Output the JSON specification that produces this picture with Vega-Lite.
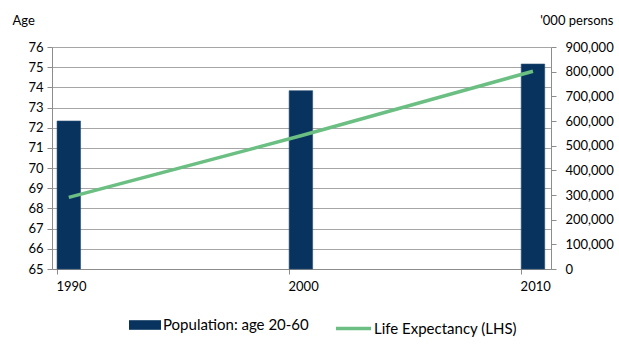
{
  "$schema": "https://vega.github.io/schema/vega-lite/v6.json",
  "width": 499,
  "height": 222,
  "autosize": "none",
  "padding": {"left": 52, "top": 47, "right": 68, "bottom": 76},
  "background": "white",
  "config": {
    "view": {"stroke": null},
    "font": "Lato",
    "axis": {
      "labelFont": "Lato", "labelFontSize": 13, "labelColor": "#000000",
      "titleFont": "Lato", "titleFontSize": 13, "titleFontWeight": "normal", "titleColor": "#000000",
      "domainColor": "#8c8c8c", "tickColor": "#8c8c8c", "gridColor": "#a6a6a6", "tickSize": 5
    },
    "legend": {"labelFont": "Lato", "labelFontSize": 15, "labelColor": "#000000"}
  },
  "data": {"values": [
    {"year": 1990, "population": 600000, "life": 68.55},
    {"year": 2000, "population": 723000, "life": 71.6},
    {"year": 2010, "population": 831000, "life": 74.8}
  ]},
  "layer": [
    {
      "mark": {"type": "bar", "size": 23.5, "xOffset": 11.8, "stroke": "#2a4f74", "strokeWidth": 0.6},
      "encoding": {
        "x": {"field": "year", "type": "quantitative",
              "scale": {"domain": [1990, 2011.07], "nice": false, "zero": false},
              "axis": {"values": [1990, 2000, 2010], "format": "d", "title": null, "grid": false,
                       "labelFlush": false, "labelOffset": 14, "labelPadding": 6}},
        "y": {"field": "population", "type": "quantitative",
              "scale": {"domain": [0, 900000], "nice": false},
              "axis": {"orient": "right", "values": [0,100000,200000,300000,400000,500000,600000,700000,800000,900000],
                       "format": ",d", "grid": false, "title": "'000 persons", "titleAngle": 0,
                       "titleAlign": "right", "titleBaseline": "middle", "titleX": 62, "titleY": -27,
                       "labelPadding": 9}},
        "fill": {"datum": "Population: age 20-60", "type": "nominal",
                 "scale": {"range": ["#08335e"]},
                 "legend": {"title": null, "orient": "none", "legendX": 77, "legendY": 262,
                            "symbolType": "M-1,-0.3H1V0.3H-1Z", "symbolSize": 1024,
                            "symbolStrokeWidth": 0, "labelOffset": 2}}
      }
    },
    {
      "mark": {"type": "line", "xOffset": 11.8, "strokeWidth": 3.5},
      "encoding": {
        "x": {"field": "year", "type": "quantitative"},
        "y": {"field": "life", "type": "quantitative",
              "scale": {"domain": [65, 76], "nice": false, "zero": false},
              "axis": {"orient": "left", "values": [65,66,67,68,69,70,71,72,73,74,75,76],
                       "grid": true, "title": "Age", "titleAngle": 0, "titleAlign": "left",
                       "titleBaseline": "middle", "titleX": -40, "titleY": -27, "labelPadding": 4}},
        "stroke": {"datum": "Life Expectancy (LHS)", "type": "nominal",
                   "scale": {"range": ["#6bbf82"]},
                   "legend": {"title": null, "orient": "none", "legendX": 282, "legendY": 262,
                              "symbolType": "stroke", "symbolSize": 1225, "symbolStrokeWidth": 3.5,
                              "labelOffset": 1}}
      }
    }
  ],
  "resolve": {"scale": {"y": "independent"}}
}
